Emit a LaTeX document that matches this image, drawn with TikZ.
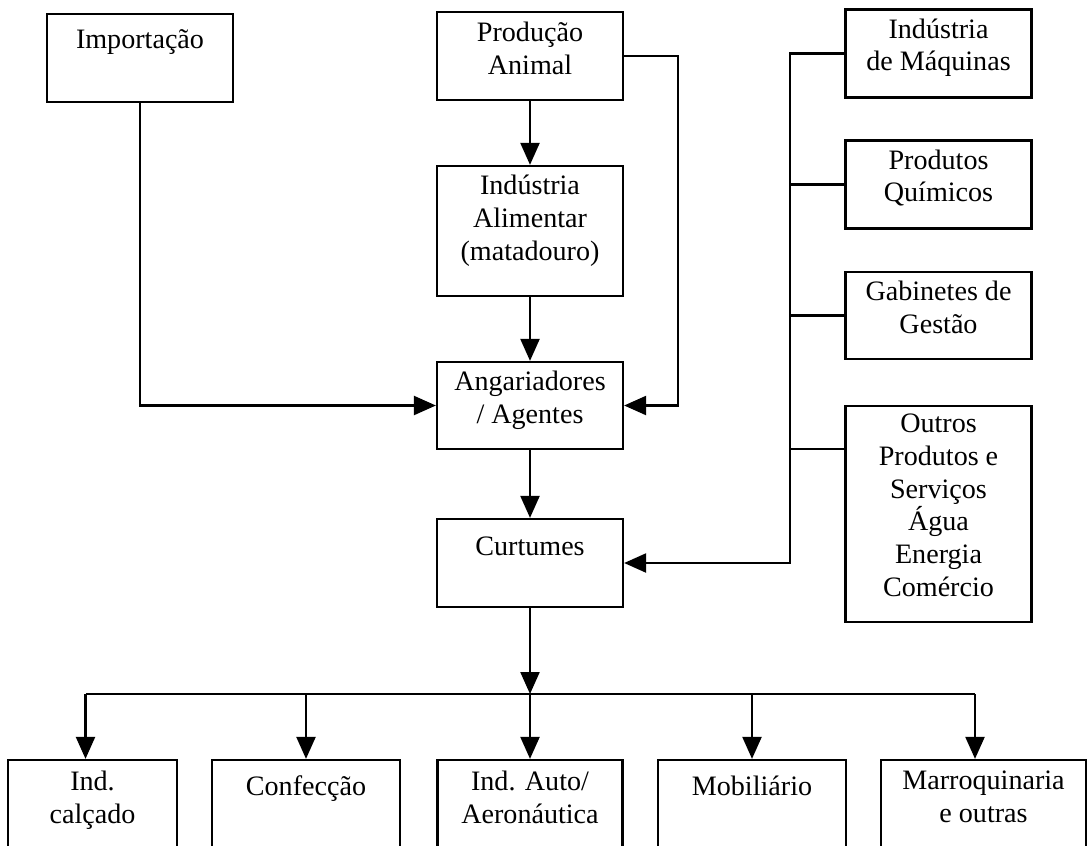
\documentclass[tikz,border=0pt]{standalone}
\usepackage{fontspec}
\setmainfont{Liberation Serif}
\usetikzlibrary{arrows.meta, positioning}

\begin{document}
\begin{tikzpicture}[
  x=0.02cm, y=-0.02cm,
  box/.style={draw, line width=1.3pt, inner sep=0pt, minimum width=3.72cm,
    minimum height=#1},
  box/.default=1.76cm,
  bbox/.style={box=2.2cm, minimum width=#1},
  lbl/.style={align=center, inner sep=0pt,
    execute at begin node={\vphantom{Á}},
    font=\fontsize{16}{18.6}\selectfont},
  ln/.style={line width=1.3pt},
  arr/.style={ln, -{Triangle[length=0.44cm, width=0.38cm]}}
]
  \useasboundingbox (0,0) rectangle (1091,845);
  \clip (0,0) rectangle (1091,845);

  % Supply chain (centre column)
  \node[box] (imp) at (140,58) {};
  \node[lbl, below=0.22cm of imp.north] (imp-t) {Importação};
  \node[box] (prod) at (530,56) {};
  \node[lbl, below=0.22cm of prod.north] (prod-t) {Produção\\Animal};
  \node[box=2.6cm] (alim) at (530,231) {};
  \node[lbl, below=0.2cm of alim.north] (alim-t)
    {Indústria\\Alimentar\\(matadouro)};
  \node[box=1.74cm] (ang) at (530,405.5) {};
  \node[lbl, below=0.2cm of ang.north] (ang-t) {Angariadores\\/ Agentes};
  \node[box] (curt) at (530,563) {};
  \node[lbl, below=0.26cm of curt.north] (curt-t) {Curtumes};

  % Suppliers (right column)
  \node[box] (maq) at (938.5,53.5) {};
  \node[lbl, below=0.2cm of maq.north] (maq-t) {Indústria\\de Máquinas};
  \node[box] (quim) at (938.5,184.5) {};
  \node[lbl, below=0.2cm of quim.north] (quim-t) {Produtos\\Químicos};
  \node[box=1.74cm] (gab) at (938.5,315.5) {};
  \node[lbl, below=0.2cm of gab.north] (gab-t) {Gabinetes de\\Gestão};
  \node[box=4.32cm] (outros) at (938.5,514) {};
  \node[lbl, below=0.18cm of outros.north] (outros-t)
    {Outros\\Produtos e\\Serviços\\Água\\Energia\\Comércio};

  % Client industries (bottom row)
  \node[bbox=3.38cm] (calc) at (92.5,815) {};
  \node[lbl, below=0.24cm of calc.north] (calc-t) {Ind.\\calçado};
  \node[bbox=3.76cm] (conf) at (306,815) {};
  \node[lbl, below=0.24cm of conf.north] (conf-t) {Confecção};
  \node[bbox=3.7cm] (auto) at (530,815) {};
  \node[lbl, below=0.24cm of auto.north] (auto-t) {Ind. Auto/\\Aeronáutica};
  \node[bbox=3.76cm] (mob) at (752,815) {};
  \node[lbl, below=0.24cm of mob.north] (mob-t) {Mobiliário};
  \node[bbox=4.1cm] (marr) at (983.5,815) {};
  \node[lbl, below=0.24cm of marr.north] (marr-t) {Marroquinaria\\e outras};

  % Connectors
  \coordinate (pr) at (678,200);
  \coordinate (trunk) at (790,300);
  \coordinate (bus) at (530,694);
  \coordinate (calc-in) at ([xshift=-0.14cm]calc.north);
  \coordinate (marr-in) at ([xshift=-0.17cm]marr.north);

  \draw[arr] (prod) -- (alim);
  \draw[arr] (alim) -- (ang);
  \draw[arr] (ang) -- (curt);
  \draw[arr] (imp.south) |- (ang.west);
  \draw[arr] (prod.east) -| (pr |- ang.east) -- (ang.east);
  \draw[arr] (maq.west) -| (trunk |- curt.east) -- (curt.east);
  \foreach \b in {quim, gab} {
    \draw[ln] (\b.west) -| (trunk);
  }
  \draw[ln] ([yshift=-0.88cm]outros.north west) -| (trunk);

  \draw[arr] (curt.south) -- (bus);
  \draw[ln] (calc-in |- bus) -- (marr-in |- bus);
  \foreach \t in {calc-in, conf.north, auto.north, mob.north, marr-in} {
    \draw[arr] (\t |- bus) -- (\t);
  }
\end{tikzpicture}
\end{document}
